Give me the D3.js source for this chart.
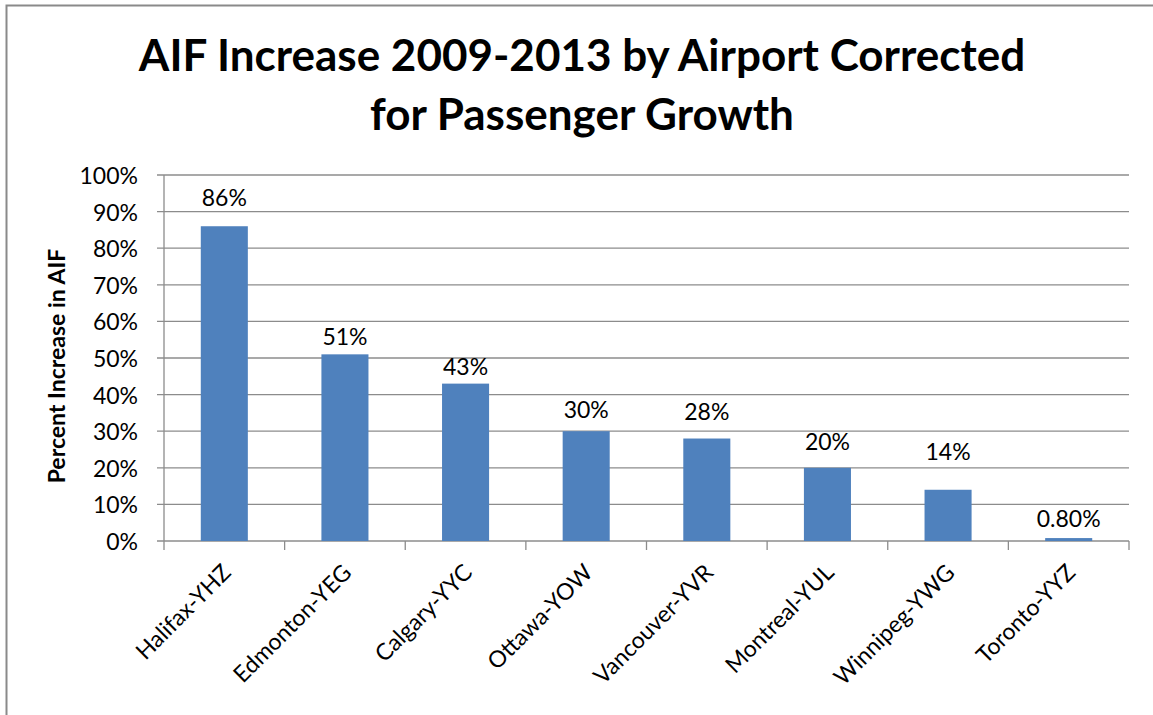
<!DOCTYPE html>
<html>
  <head>
    <script src="https://cdnjs.cloudflare.com/ajax/libs/d3/7.8.5/d3.min.js"></script>
    <style>
      body {
        margin: 0;
        background: #ffffff;
        font-family: Lato, "Open Sans", sans-serif;
      }
      .grid line {
        stroke: #8c8c8c;
        stroke-width: 1.3px;
      }
    </style>
  </head>
  <body>
    <svg id="chart" width="1153" height="715"></svg>
    <script>
      const airports = [
        "Halifax-YHZ",
        "Edmonton-YEG",
        "Calgary-YYC",
        "Ottawa-YOW",
        "Vancouver-YVR",
        "Montreal-YUL",
        "Winnipeg-YWG",
        "Toronto-YYZ",
      ];
      const increase = [86, 51, 43, 30, 28, 20, 14, 0.8];
      const valueLabels = ["86%", "51%", "43%", "30%", "28%", "20%", "14%", "0.80%"];
      const yTicks = [0, 10, 20, 30, 40, 50, 60, 70, 80, 90, 100];

      const svg = d3.select("#chart");
      const plotLeft = 164, plotRight = 1129, plotTop = 175, plotBottom = 541;

      // outer chart border (right edge runs off the picture)
      svg.append("path")
        .attr("d", "M6.5,715 V5.5 H1153")
        .attr("fill", "none")
        .attr("stroke", "#8a8a8a")
        .attr("stroke-width", 2);

      // title
      const title = svg.append("text")
        .attr("text-anchor", "middle")
        .attr("font-weight", "bold")
        .attr("font-size", 44)
        .attr("fill", "#000");
      title.append("tspan").attr("x", 582).attr("y", 71).text("AIF Increase 2009-2013 by Airport Corrected");
      title.append("tspan").attr("x", 582).attr("y", 130).text("for Passenger Growth");

      const x = d3.scaleBand()
        .domain(airports)
        .range([plotLeft, plotRight])
        .paddingInner(0.61)
        .paddingOuter(0.305);

      const y = d3.scaleLinear().domain([0, 100]).range([plotBottom, plotTop]);

      // horizontal gridlines with small ticks to the left
      const grid = svg.append("g").attr("class", "grid");
      grid.selectAll("line")
        .data(yTicks)
        .enter()
        .append("line")
        .attr("x1", plotLeft - 7)
        .attr("x2", plotRight)
        .attr("y1", (d) => y(d))
        .attr("y2", (d) => y(d));

      // y axis line
      svg.append("line")
        .attr("x1", plotLeft).attr("x2", plotLeft)
        .attr("y1", plotTop).attr("y2", plotBottom)
        .attr("stroke", "#8c8c8c").attr("stroke-width", 1.3);

      // category boundary ticks below axis
      const step = x.step();
      svg.append("g")
        .selectAll("line")
        .data(d3.range(airports.length + 1))
        .enter()
        .append("line")
        .attr("x1", (i) => plotLeft + i * step)
        .attr("x2", (i) => plotLeft + i * step)
        .attr("y1", plotBottom)
        .attr("y2", plotBottom + 9)
        .attr("stroke", "#8c8c8c")
        .attr("stroke-width", 1.3);

      // y tick labels
      svg.append("g")
        .selectAll("text")
        .data(yTicks)
        .enter()
        .append("text")
        .attr("x", plotLeft - 26)
        .attr("y", (d) => y(d) + 1)
        .attr("dy", "0.35em")
        .attr("text-anchor", "end")
        .attr("font-size", 23)
        .text((d) => d + "%");

      // y axis title
      svg.append("text")
        .attr("transform", "translate(65,366) rotate(-90)")
        .attr("text-anchor", "middle")
        .attr("font-weight", "bold")
        .attr("font-size", 23)
        .text("Percent Increase in AIF");

      // bars
      svg.append("g")
        .selectAll("rect")
        .data(increase)
        .enter()
        .append("rect")
        .attr("x", (d, i) => x(airports[i]))
        .attr("y", (d) => y(d))
        .attr("width", x.bandwidth())
        .attr("height", (d) => y(0) - y(d))
        .attr("fill", "#4f81bd");

      // value labels (hand-placed in the original, so the gap varies)
      const labelGap = [20, 9, 9, 13, 19, 18, 30, 11];
      svg.append("g")
        .selectAll("text")
        .data(increase)
        .enter()
        .append("text")
        .attr("x", (d, i) => x(airports[i]) + x.bandwidth() / 2)
        .attr("y", (d, i) => y(d) - labelGap[i])
        .attr("text-anchor", "middle")
        .attr("font-size", 23)
        .text((d, i) => valueLabels[i]);

      // category labels, rotated
      svg.append("g")
        .selectAll("text")
        .data(airports)
        .enter()
        .append("text")
        .attr("transform", (d) => {
          const cx = x(d) + x.bandwidth() / 2 + 8;
          return `translate(${cx},${plotBottom + 33}) rotate(-45)`;
        })
        .attr("text-anchor", "end")
        .attr("font-size", 23)
        .text((d) => d);
    </script>
  </body>
</html>
